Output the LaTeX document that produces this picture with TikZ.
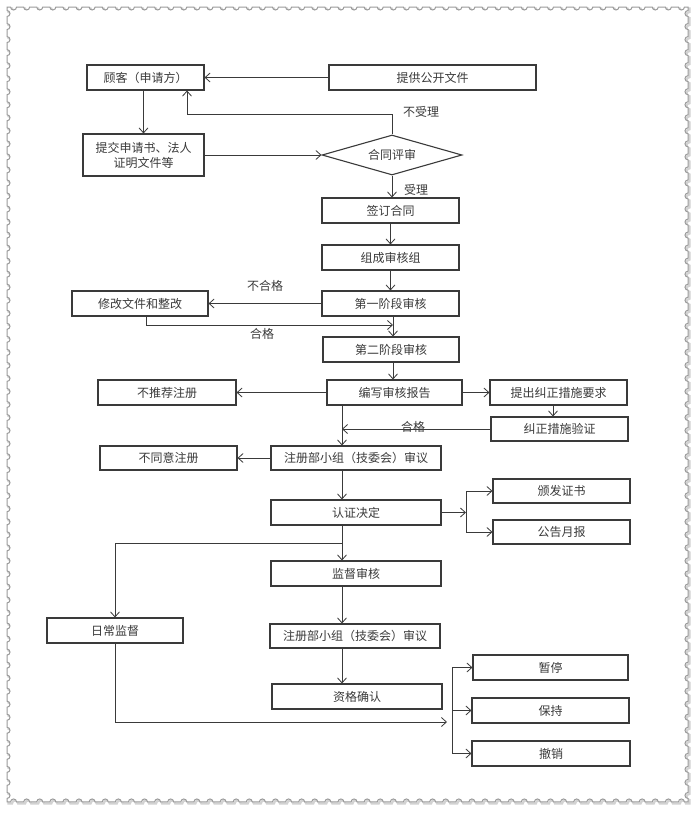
\documentclass[tikz,border=0pt]{standalone}
\usepackage{fontspec}
\setmainfont{Noto Sans CJK SC}
\usetikzlibrary{arrows.meta,shapes.geometric}
\definecolor{ink}{HTML}{3A3A3A}
\definecolor{edge}{HTML}{9A9A9A}
\newcommand\stampedge{(7,7)
  \foreach \i in {1,...,52} { -- ++(3.548,0) arc[start angle=180,end angle=360,radius=3pt] -- ++(3.548,0) }
  \foreach \i in {1,...,61} { -- ++(0,3.516) arc[start angle=90,end angle=270,radius=3pt] -- ++(0,3.516) }
  \foreach \i in {1,...,52} { -- ++(-3.548,0) arc[start angle=0,end angle=180,radius=3pt] -- ++(-3.548,0) }
  \foreach \i in {1,...,61} { -- ++(0,-3.516) arc[start angle=270,end angle=450,radius=3pt] -- ++(0,-3.516) }
  -- cycle}
\begin{document}
\begin{tikzpicture}[x=1pt,y=-1pt,
  box/.style={draw=ink, line width=1.1pt, minimum height=25pt, inner sep=1pt,
    font=\fontsize{12}{15}\selectfont, text=ink, align=center},
  lbl/.style={font=\fontsize{12}{14}\selectfont, text=ink, inner sep=1pt},
  arr/.style={draw=ink, line width=0.8pt, -{Straight Barb[length=5pt,width=9pt]}},
  ln/.style={draw=ink, line width=0.8pt}]
\useasboundingbox (0,0) rectangle (697,814);
\fill[white] (0,0) rectangle (697,814);
% stamp frame
\begin{scope}[shift={(1.5,1.5)}]
\draw[gray!35, line width=2.2pt] \stampedge;
\end{scope}
\draw[edge, line width=1pt, fill=white] \stampedge;

% boxes
\node[box, minimum width=117pt] (gk) at (145.5,77.5) {顾客（申请方）};
\node[box, minimum width=207pt] (tg) at (432.5,77.5) {提供公开文件};
\node[box, minimum width=121pt, minimum height=42pt] (tj) at (143.5,155) {提交申请书、法人\\证明文件等};
\node[draw=ink, line width=1.1pt, diamond, aspect=3.5, minimum width=140pt, minimum height=40pt,
  inner sep=0pt, font=\fontsize{12}{14}\selectfont, text=ink] (ht) at (392,155) {合同评审};
\node[box, minimum width=137pt] (qd) at (390.5,210.5) {签订合同};
\node[box, minimum width=137pt] (zc) at (390.5,257.5) {组成审核组};
\node[box, minimum width=137pt] (d1) at (390.5,303.5) {第一阶段审核};
\node[box, minimum width=136pt] (xg) at (140,303.5) {修改文件和整改};
\node[box, minimum width=136pt] (d2) at (391,349.5) {第二阶段审核};
\node[box, minimum width=135pt] (bx) at (394.5,392.5) {编写审核报告};
\node[box, minimum width=138pt] (btj) at (167,392.5) {不推荐注册};
\node[box, minimum width=137pt] (tc) at (558.5,392.5) {提出纠正措施要求};
\node[box, minimum width=137pt, minimum height=24pt] (jz) at (559.5,429) {纠正措施验证};
\node[box, minimum width=170pt, minimum height=24pt] (zc1) at (356,458) {注册部小组（技委会）审议};
\node[box, minimum width=137pt, minimum height=24pt] (bty) at (168.5,458) {不同意注册};
\node[box, minimum width=170pt] (rz) at (356,512.5) {认证决定};
\node[box, minimum width=137pt, minimum height=24pt] (bf) at (561.5,491) {颁发证书};
\node[box, minimum width=137pt, minimum height=24pt] (gg) at (561.5,532) {公告月报};
\node[box, minimum width=170pt] (jd) at (356,573.5) {监督审核};
\node[box, minimum width=136pt] (rc) at (115,630.5) {日常监督};
\node[box, minimum width=170pt, minimum height=24pt] (zc2) at (355,636) {注册部小组（技委会）审议};
\node[box, minimum width=170pt] (zg) at (357,696.5) {资格确认};
\node[box, minimum width=155pt] (zt) at (550.5,667.5) {暂停};
\node[box, minimum width=157pt] (bc) at (550.5,710.5) {保持};
\node[box, minimum width=158pt] (cx) at (551,753.5) {撤销};

% helper coordinates
\coordinate (cA) at (342,0);
\coordinate (cB) at (553,0);
\coordinate (nr) at (187,114);
\coordinate (hg) at (393,325);
\coordinate (jr) at (466,512.5);
\coordinate (jl) at (342,543);
\coordinate (rb) at (447,722);
\coordinate (jb) at (452,711);

% connectors
\draw[arr] (tg.west) -- (gk.east);
\draw[arr] (gk.south -| tj.north) -- (tj.north);
\draw[arr] (tj.east) -- (ht.west);
\draw[arr] (ht.north) |- (nr) -- (nr |- gk.south);
\node[lbl] (lbnr) at (421,112) {不受理};
\draw[arr] (ht.south) -- (ht.south |- qd.north);
\node[lbl] (lbsl) at (416,190) {受理};
\draw[arr] (qd.south) -- (zc.north);
\draw[arr] (zc.south) -- (d1.north);
\draw[arr] (d1.west) -- (d1.west -| xg.east);
\node[lbl] (lbbh) at (265,286) {不合格};
\draw[arr] ([xshift=6pt]xg.south) |- (hg);
\node[lbl] (lbhg) at (262,334) {合格};
\draw[arr] (d1.south -| hg) -- (d2.north -| hg);
\draw[arr] (d2.south -| hg) -- (bx.north -| hg);
\draw[arr] (bx.west) -- (btj.east);
\draw[arr] (bx.east) -- (tc.west);
\draw[arr] (tc.south -| cB) -- (jz.north -| cB);
\draw[arr] (jz.west) -- (jz.west -| cA);
\node[lbl] (lbhg2) at (413,427) {合格};
\draw[arr] (bx.south -| cA) -- (zc1.north -| cA);
\draw[arr] (zc1.west) -- (bty.east);
\draw[arr] (zc1.south -| cA) -- (rz.north -| cA);
\draw[arr] (rz.east) -- (jr);
\draw[arr] (jr) |- (bf.west);
\draw[arr] (jr) |- (gg.west);
\draw[arr] (rz.south -| cA) -- (jd.north -| cA);
\draw[arr] (jl) -| (rc.north);
\draw[arr] (jd.south -| cA) -- (zc2.north -| cA);
\draw[arr] (zc2.south -| cA) -- (zg.north -| cA);
\draw[arr] (rc.south) |- (rb);
\draw[ln] (jb |- zt.west) -- (jb |- cx.west);
\draw[arr] (jb |- zt.west) -- (zt.west);
\draw[arr] (jb |- bc.west) -- (bc.west);
\draw[arr] (jb |- cx.west) -- (cx.west);
\end{tikzpicture}
\end{document}
